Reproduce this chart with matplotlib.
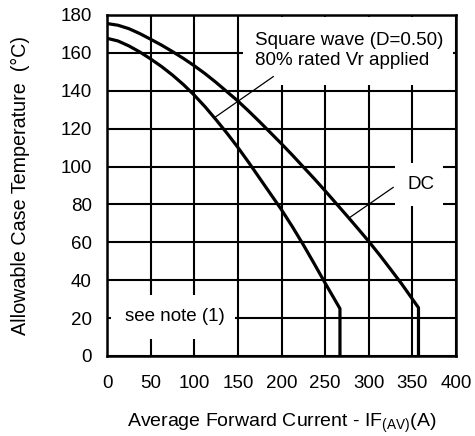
import numpy as np
import matplotlib
matplotlib.use("Agg")
import matplotlib.pyplot as plt
from matplotlib.patches import Rectangle

plt.rcParams['font.family'] = ['Liberation Sans', 'DejaVu Sans']
plt.rcParams['mathtext.fontset'] = 'custom'
plt.rcParams['mathtext.rm'] = 'Liberation Sans'
plt.rcParams['mathtext.it'] = 'Liberation Sans'

# Curves (current in A, case temperature in degC)
sq_current = [0, 12.5, 25, 37.5, 50, 62.5, 75, 87.5, 100, 112.5, 125, 137.5, 150,
              162.5, 175, 187.5, 200, 212.5, 225, 237.5, 250, 267, 267]
sq_temp = [167.7, 166.3, 163.7, 160.5, 156.8, 152.8, 148.3, 143.3, 137.7, 131.5, 124.7, 117.6, 110.1,
           102.1, 93.8, 85.5, 77.2, 68.2, 58.7, 48.7, 38.5, 25, 0]

dc_current = [0, 12.5, 25, 37.5, 50, 62.5, 75, 87.5, 100, 112.5, 125, 137.5, 150,
              162.5, 175, 187.5, 200, 212.5, 225, 237.5, 250, 262.5, 275, 287.5,
              300, 312.5, 325, 337.5, 357, 357]
dc_temp = [175.5, 174.6, 172.8, 170.2, 167.2, 164.1, 160.7, 157.1, 153.2, 149.0, 144.4, 139.5, 134.6,
           129.2, 123.6, 117.8, 112.0, 106.0, 99.8, 93.6, 87.2, 80.6, 74.0, 67.3,
           60.5, 53.3, 45.8, 38.2, 25.5, 0]

x_ticks = [0, 50, 100, 150, 200, 250, 300, 350, 400]
y_ticks = [0, 20, 40, 60, 80, 100, 120, 140, 160, 180]

fig = plt.figure(figsize=(4.75, 4.36), dpi=100)
ax = fig.add_axes([0.2253, 0.1835, 0.7347, 0.7821])

ax.set_axisbelow(True)
ax.grid(True, color='black', linewidth=1.5)

# white label boxes that hide the grid
boxes = [(156, 143, 240, 36), (330, 79, 55, 23), (5, 9, 142, 23)]
for bx, by, bw, bh in boxes:
    ax.add_patch(Rectangle((bx, by), bw, bh, facecolor='white', edgecolor='none', zorder=1))

ax.plot(sq_current, sq_temp, color='black', linewidth=2.3, zorder=2, solid_joinstyle='round')
ax.plot(dc_current, dc_temp, color='black', linewidth=2.3, zorder=2, solid_joinstyle='round')

# leader lines
ax.plot([190.6, 123.8], [147.5, 126], color='black', linewidth=0.9, zorder=2)
ax.plot([328, 278.5], [89, 73.2], color='black', linewidth=0.9, zorder=2)

ax.text(170, 161.3, 'Square wave (D=0.50)\n80% rated Vr applied', fontsize=13.5,
        ha='left', va='center', linespacing=1.2, zorder=3)
ax.text(359.5, 90.6, 'DC', fontsize=13.5, ha='center', va='center', zorder=3)
ax.text(78, 21, 'see note (1)', fontsize=13.5, ha='center', va='center', zorder=3)

ax.set_xlim(0, 400)
ax.set_ylim(0, 180)
ax.set_xticks(x_ticks)
ax.set_yticks(y_ticks)
ax.tick_params(axis='both', length=0, labelsize=13.5)
ax.tick_params(axis='x', pad=14)
ax.tick_params(axis='y', pad=11)
for sp in ax.spines.values():
    sp.set_linewidth(1.8)
    sp.set_zorder(2.5)

ax.set_xlabel('Average Forward Current - IF$_{\\mathregular{(AV)}}$(A)', fontsize=14, labelpad=14)
ax.set_ylabel('Allowable Case Temperature  (°C)', fontsize=14.2, labelpad=22)

fig.savefig('out.png', dpi=100)
